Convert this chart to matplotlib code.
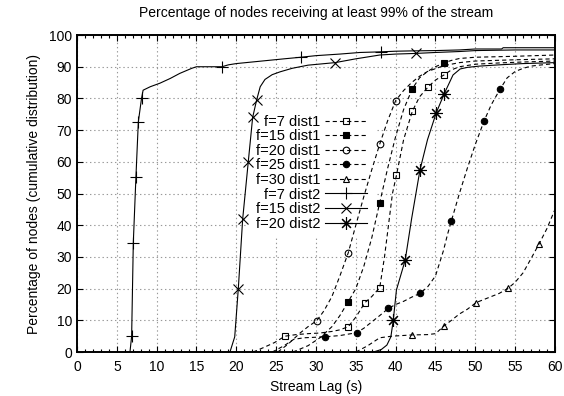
import matplotlib
matplotlib.use("Agg")
import matplotlib.pyplot as plt
from matplotlib.ticker import MultipleLocator

plt.rcParams['font.family'] = ['Liberation Sans', 'DejaVu Sans']
plt.rcParams['lines.scale_dashes'] = False

# ---------------- data ----------------
f7d1_x = [22.1, 23.5, 24.8, 26.1, 27.5, 29, 30.5, 32, 33, 34.05, 35, 36.15, 37, 38.0, 38.6, 39.2, 39.6, 40.1, 41, 42.1, 43, 44.1, 45, 46.06, 47, 48, 50, 53, 56, 60]
f7d1_y = [0, 1.5, 3, 5, 5.5, 5.8, 6, 6.5, 7, 8, 11, 15.6, 17.5, 20.3, 30, 42, 50, 55.8, 67, 76, 80.5, 83.7, 85.8, 87.4, 89, 90, 90.8, 91.2, 91.5, 91.8]
f7d1_marks = [26.1, 34.05, 36.15, 38.0, 40.1, 42.1, 44.1, 46.06]

f15d1_x = [27.1, 29, 30.5, 32, 33, 34.05, 35, 36, 37, 38.0, 39, 40, 41, 42.1, 43, 44, 45, 46.06, 47, 48, 50, 55, 60]
f15d1_y = [0, 2, 4.5, 8, 11.5, 15.9, 20, 27, 36, 47.1, 58, 68, 76.5, 83.1, 86.5, 88.5, 90, 91.2, 92, 92.6, 93, 93.3, 93.7]
f15d1_marks = [34.05, 38.0, 42.1, 46.06]

f20d1_x = [25.2, 26.5, 28, 29, 30.1, 31, 32, 33, 34.05, 35, 36, 37, 38.0, 39, 40.0, 41, 42, 43, 44, 46, 48, 50, 55, 60]
f20d1_y = [0, 2.5, 6, 8, 9.9, 13, 17.5, 24, 31.3, 40, 49, 57.5, 65.6, 73, 79.3, 82.5, 85, 87, 88.5, 90.3, 91.3, 91.8, 92.2, 92.5]
f20d1_marks = [30.1, 34.05, 38.0, 40.0]

f25d1_x = [24.5, 26, 27.2, 28.5, 31.1, 33, 35.1, 36, 37, 38, 39.1, 40, 41, 42, 43.05, 44, 45, 46, 46.5, 47.0, 48, 49, 50, 51.1, 52, 53.1, 54, 55, 56, 57, 58, 60]
f25d1_y = [0, 2, 4, 4.5, 4.8, 5.2, 6.1, 7.5, 9.5, 11.5, 13.8, 15, 16, 17.3, 18.5, 20.5, 24, 32, 37, 41.4, 50, 58, 65.5, 72.9, 78, 82.9, 86.5, 88.5, 89.5, 90.2, 90.5, 91]
f25d1_marks = [31.1, 35.1, 39.1, 43.05, 47.0, 51.1, 53.1]

f30d1_x = [35, 36.5, 38, 39.5, 42.1, 44, 45, 46.1, 47, 48, 49, 50.1, 51, 52, 53, 54.1, 55, 56, 57, 58.0, 59, 60]
f30d1_y = [0, 2, 4.5, 5, 5.4, 5.5, 5.8, 8.3, 10, 12, 13.5, 15.6, 16.5, 17.5, 18.5, 20.1, 22, 25, 29.5, 34.1, 39, 45]
f30d1_marks = [42.1, 46.1, 50.1, 54.1, 58.0]

f7d2_x = [6.65, 6.86, 7.07, 7.4, 7.7, 8.1, 8.3, 9.2, 10.4, 11.7, 12.9, 14.4, 15, 18.2, 19, 20, 22, 24, 26, 28.1, 30, 33, 35.5, 38.1, 40, 42, 45, 48, 50, 53.3, 53.5, 60]
f7d2_y = [0, 5, 34.5, 55.3, 72.6, 80, 82.6, 83.7, 84.8, 86.3, 87.9, 89.5, 90, 90, 90.6, 91, 91.5, 92, 92.5, 93, 93.5, 94, 94.5, 94.7, 94.9, 95, 95.1, 95.3, 95.6, 95.6, 96, 96]
f7d2_marks = [6.86, 7.07, 7.4, 7.7, 8.1, 18.2, 28.1, 38.1]

f15d2_x = [19.2, 19.8, 20.25, 20.8, 21.5, 22.05, 22.55, 23, 23.6, 24.5, 25.5, 27, 29, 32.4, 35, 38, 40, 42.5, 45, 48, 50, 55, 60]
f15d2_y = [0, 4.8, 20, 42, 60, 74, 79.5, 83.7, 86, 87.5, 88.4, 89.5, 90.5, 91.3, 92.5, 93.7, 94, 94.2, 94.5, 94.8, 95.1, 95.3, 95.3]
f15d2_marks = [20.25, 20.8, 21.5, 22.05, 22.55, 32.4, 42.5]

f20d2_x = [37.2, 38.2, 38.9, 39.4, 39.7, 40.1, 41.2, 42, 43.05, 44, 45.1, 46.1, 47.2, 48.1, 49, 50.5, 53, 56, 60]
f20d2_y = [0, 0.8, 2.2, 4.8, 10, 19.6, 29, 42, 57.4, 67, 75.5, 81.5, 87.4, 89.3, 89.8, 90.2, 90.6, 91, 91.3]
f20d2_marks = [39.7, 41.2, 43.05, 45.1, 46.1]

labels = ["f=7 dist1", "f=15 dist1", "f=20 dist1", "f=25 dist1", "f=30 dist1",
          "f=7 dist2", "f=15 dist2", "f=20 dist2"]

title = "Percentage of nodes receiving at least 99% of the stream"
xlabel = "Stream Lag (s)"
ylabel = "Percentage of nodes (cumulative distribution)"

# ---------------- plot ----------------
fig = plt.figure(figsize=(5.64, 3.96), dpi=100)
ax = fig.add_axes([0.1365, 0.111, 0.8475, 0.8005])

dash = (0, (3.0, 2.2))
series = [
    (f7d1_x, f7d1_y, f7d1_marks, dict(ls=dash, marker='s', ms=5, mfc='none')),
    (f15d1_x, f15d1_y, f15d1_marks, dict(ls=dash, marker='s', ms=4.8, mfc='black')),
    (f20d1_x, f20d1_y, f20d1_marks, dict(ls=dash, marker='o', ms=4.8, mfc='none')),
    (f25d1_x, f25d1_y, f25d1_marks, dict(ls=dash, marker='o', ms=4.6, mfc='black')),
    (f30d1_x, f30d1_y, f30d1_marks, dict(ls=dash, marker='^', ms=5, mfc='none')),
    (f7d2_x, f7d2_y, f7d2_marks, dict(ls='-', marker='+', ms=8.5)),
    (f15d2_x, f15d2_y, f15d2_marks, dict(ls='-', marker='x', ms=7)),
    (f20d2_x, f20d2_y, f20d2_marks, dict(ls='-', marker=(8, 2, 0), ms=9)),
]

for (xs, ys, marks, st), lab in zip(series, labels):
    idx = [i for i, v in enumerate(xs) if v in marks]
    ax.plot(xs, ys, color='black', lw=0.8, mec='black', mew=0.8,
            markevery=idx, label=lab, zorder=3, **st)

ax.set_xlim(0, 60)
ax.set_ylim(0, 100)
ax.xaxis.set_major_locator(MultipleLocator(5))
ax.xaxis.set_minor_locator(MultipleLocator(1))
ax.yaxis.set_major_locator(MultipleLocator(10))
ax.tick_params(which='both', direction='in', top=True, right=True, labelsize=10, color='black')
ax.tick_params(which='major', length=4.5, width=0.8)
ax.tick_params(which='minor', length=2.5, width=0.8)
ax.tick_params(axis='x', pad=6)
for s in ax.spines.values():
    s.set_linewidth(1.4)

ax.grid(True, which='major', color='#999999', lw=0.8, ls=(0, (1, 2)))
ax.set_axisbelow(True)

ax.set_title(title, fontsize=10, pad=13)
ax.set_xlabel(xlabel, fontsize=10, labelpad=4)
ax.set_ylabel(ylabel, fontsize=10, labelpad=6)

leg = ax.legend(loc='upper right', bbox_to_anchor=(0.623, 0.772), markerfirst=False,
                frameon=True, fancybox=False, edgecolor='none', facecolor='white',
                framealpha=1, fontsize=10.5, handlelength=2.9, handletextpad=0.35,
                labelspacing=0.04, borderpad=0.5, borderaxespad=0)
leg.set_zorder(2)

fig.savefig("out.png", dpi=100)
